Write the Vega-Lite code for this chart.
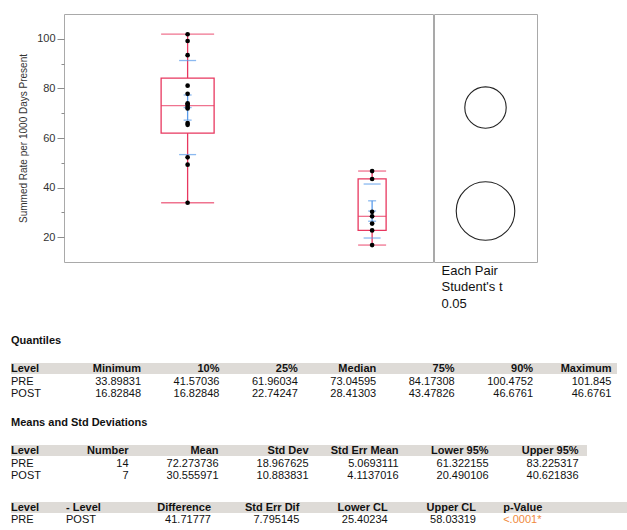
{
  "$schema": "https://vega.github.io/schema/vega-lite/v6.json",
  "background": "white",
  "padding": {"left": 11, "top": 13, "right": 0, "bottom": 0},
  "config": {
    "font": "Liberation Sans",
    "view": {"stroke": "#A9A9A9", "strokeWidth": 1},
    "axis": {"grid": false}
  },
  "datasets": {
    "stats": [
      {"level": "PRE", "n": 14, "min": 33.89831, "q1": 61.96034, "median": 73.04595, "q3": 84.17308, "max": 101.845, "mean": 72.273736, "sd_lo": 53.306111, "sd_hi": 91.241361, "se_lo": 67.204425, "se_hi": 77.343047, "ci_radius": 9.42},
      {"level": "POST", "n": 7, "min": 16.82848, "q1": 22.74247, "median": 28.41303, "q3": 43.47826, "max": 46.6761, "mean": 30.555971, "sd_lo": 19.67214, "sd_hi": 41.439802, "se_lo": 26.442269, "se_hi": 34.669673, "ci_radius": 13.32}
    ],
    "points": [
      {"level": "PRE", "value": 33.898}, {"level": "PRE", "value": 49.24}, {"level": "PRE", "value": 52.2}, {"level": "PRE", "value": 65.3},
      {"level": "PRE", "value": 66.0}, {"level": "PRE", "value": 71.9}, {"level": "PRE", "value": 72.6}, {"level": "PRE", "value": 73.49},
      {"level": "PRE", "value": 74.0}, {"level": "PRE", "value": 77.8}, {"level": "PRE", "value": 81.1}, {"level": "PRE", "value": 93.4},
      {"level": "PRE", "value": 99.105}, {"level": "PRE", "value": 101.845},
      {"level": "POST", "value": 16.828}, {"level": "POST", "value": 22.742}, {"level": "POST", "value": 25.5}, {"level": "POST", "value": 28.413},
      {"level": "POST", "value": 30.25}, {"level": "POST", "value": 43.478}, {"level": "POST", "value": 46.676}
    ],
    "quant": [
      {"row": "header", "col": "Level", "text": "Level"}, {"row": "header", "col": "Minimum", "text": "Minimum"}, {"row": "header", "col": "10%", "text": "10%"}, {"row": "header", "col": "25%", "text": "25%"}, {"row": "header", "col": "Median", "text": "Median"}, {"row": "header", "col": "75%", "text": "75%"}, {"row": "header", "col": "90%", "text": "90%"}, {"row": "header", "col": "Maximum", "text": "Maximum"},
      {"row": "PRE", "col": "Level", "text": "PRE"}, {"row": "PRE", "col": "Minimum", "text": "33.89831"}, {"row": "PRE", "col": "10%", "text": "41.57036"}, {"row": "PRE", "col": "25%", "text": "61.96034"}, {"row": "PRE", "col": "Median", "text": "73.04595"}, {"row": "PRE", "col": "75%", "text": "84.17308"}, {"row": "PRE", "col": "90%", "text": "100.4752"}, {"row": "PRE", "col": "Maximum", "text": "101.845"},
      {"row": "POST", "col": "Level", "text": "POST"}, {"row": "POST", "col": "Minimum", "text": "16.82848"}, {"row": "POST", "col": "10%", "text": "16.82848"}, {"row": "POST", "col": "25%", "text": "22.74247"}, {"row": "POST", "col": "Median", "text": "28.41303"}, {"row": "POST", "col": "75%", "text": "43.47826"}, {"row": "POST", "col": "90%", "text": "46.6761"}, {"row": "POST", "col": "Maximum", "text": "46.6761"}
    ],
    "means": [
      {"row": "header", "col": "Level", "text": "Level"}, {"row": "header", "col": "Number", "text": "Number"}, {"row": "header", "col": "Mean", "text": "Mean"}, {"row": "header", "col": "Std Dev", "text": "Std Dev"}, {"row": "header", "col": "Std Err Mean", "text": "Std Err Mean"}, {"row": "header", "col": "Lower 95%", "text": "Lower 95%"}, {"row": "header", "col": "Upper 95%", "text": "Upper 95%"},
      {"row": "PRE", "col": "Level", "text": "PRE"}, {"row": "PRE", "col": "Number", "text": "14"}, {"row": "PRE", "col": "Mean", "text": "72.273736"}, {"row": "PRE", "col": "Std Dev", "text": "18.967625"}, {"row": "PRE", "col": "Std Err Mean", "text": "5.0693111"}, {"row": "PRE", "col": "Lower 95%", "text": "61.322155"}, {"row": "PRE", "col": "Upper 95%", "text": "83.225317"},
      {"row": "POST", "col": "Level", "text": "POST"}, {"row": "POST", "col": "Number", "text": "7"}, {"row": "POST", "col": "Mean", "text": "30.555971"}, {"row": "POST", "col": "Std Dev", "text": "10.883831"}, {"row": "POST", "col": "Std Err Mean", "text": "4.1137016"}, {"row": "POST", "col": "Lower 95%", "text": "20.490106"}, {"row": "POST", "col": "Upper 95%", "text": "40.621836"}
    ],
    "diff": [
      {"row": "header", "col": "Level", "text": "Level"}, {"row": "header", "col": "- Level", "text": "- Level"}, {"row": "header", "col": "Difference", "text": "Difference"}, {"row": "header", "col": "Std Err Dif", "text": "Std Err Dif"}, {"row": "header", "col": "Lower CL", "text": "Lower CL"}, {"row": "header", "col": "Upper CL", "text": "Upper CL"}, {"row": "header", "col": "p-Value", "text": "p-Value"},
      {"row": "PRE", "col": "Level", "text": "PRE"}, {"row": "PRE", "col": "- Level", "text": "POST"}, {"row": "PRE", "col": "Difference", "text": "41.71777"}, {"row": "PRE", "col": "Std Err Dif", "text": "7.795145"}, {"row": "PRE", "col": "Lower CL", "text": "25.40234"}, {"row": "PRE", "col": "Upper CL", "text": "58.03319"}, {"row": "PRE", "col": "p-Value", "text": "<.0001*"}
    ]
  },
  "spacing": 23,
  "vconcat": [
    {
      "spacing": -2,
      "resolve": {"scale": {"size": "independent"}},
      "hconcat": [
        {
          "width": 8,
          "height": 248,
          "view": {"stroke": null},
          "data": {"values": []},
          "mark": "point"
        },
        {
          "width": 369,
          "height": 248,
          "resolve": {"axis": {"y": "independent"}},
          "layer": [
            {
              "mark": {"type": "rule", "color": "#A9A9A9", "strokeWidth": 1},
              "encoding": {
                "y": {
                  "datum": 58.37, "type": "quantitative",
                  "scale": {"domain": [10, 110], "nice": false, "zero": false},
                  "axis": {
                    "title": "Summed Rate per 1000 Days Present",
                    "orient": "left",
                    "values": [20, 40, 60, 80, 100],
                    "tickSize": 7,
                    "domain": false, "grid": false, "tickColor": "#8C8C8C",
                    "labelFontSize": 11, "labelColor": "#333333", "labelPadding": 2,
                    "titleFontSize": 10, "titleFontWeight": "normal", "titleColor": "#333333", "titlePadding": 8.5
                  }
                }
              }
            },
            {
              "data": {"name": "stats"},
              "mark": {"type": "rule", "color": "#E8375F", "strokeWidth": 1.3},
              "encoding": {
                "x": {
                  "field": "level", "type": "nominal",
                  "scale": {"type": "point", "domain": ["PRE", "POST"], "padding": 0.5, "align": 0.67},
                  "axis": {
                    "title": "INTERVENTION (PRE/POST)", "ticks": false, "tickSize": 0, "domain": false, "labelAngle": 0,
                    "labelFontSize": 10, "labelColor": "#222222", "labelPadding": 4,
                    "titleFontSize": 10, "titleFontWeight": "normal", "titleColor": "#222222", "titlePadding": 9
                  }
                },
                "y": {
                  "field": "min", "type": "quantitative",
                  "axis": {"title": null, "orient": "left", "values": [30, 50, 70, 90], "labels": false, "tickSize": 3, "domain": false, "grid": false, "tickColor": "#8C8C8C"}
                },
                "y2": {"field": "q1"}
              }
            },
            {
              "data": {"name": "stats"},
              "mark": {"type": "rule", "color": "#E8375F", "strokeWidth": 1.3},
              "encoding": {
                "x": {"field": "level", "type": "nominal", "axis": null},
                "y": {"field": "q3", "type": "quantitative", "axis": null},
                "y2": {"field": "max"}
              }
            },
            {
              "data": {"name": "stats"},
              "mark": {"type": "bar", "filled": false, "color": "#E8375F", "strokeWidth": 1.3},
              "encoding": {
                "x": {"field": "level", "type": "nominal", "axis": null},
                "y": {"field": "q1", "type": "quantitative", "axis": null},
                "y2": {"field": "q3"},
                "size": {"field": "n", "type": "quantitative", "scale": {"domain": [7, 14], "range": [28, 53]}, "legend": null}
              }
            },
            {
              "data": {"name": "stats"},
              "transform": [{"fold": ["min", "max", "median"], "as": ["stat", "v"]}],
              "mark": {"type": "tick", "color": "#E8375F", "thickness": 1.3},
              "encoding": {
                "x": {"field": "level", "type": "nominal", "axis": null},
                "y": {"field": "v", "type": "quantitative", "axis": null},
                "size": {"field": "n", "type": "quantitative", "scale": {"domain": [7, 14], "range": [28, 53]}, "legend": null}
              }
            },
            {
              "data": {"name": "stats"},
              "mark": {"type": "rule", "color": "#5A9BEA", "strokeWidth": 1.3},
              "encoding": {
                "x": {"field": "level", "type": "nominal", "axis": null},
                "y": {"field": "se_lo", "type": "quantitative", "axis": null},
                "y2": {"field": "se_hi"}
              }
            },
            {
              "data": {"name": "stats"},
              "transform": [{"fold": ["sd_lo", "sd_hi"], "as": ["stat", "v"]}],
              "mark": {"type": "tick", "color": "#5A9BEA", "thickness": 1.3, "size": 17},
              "encoding": {
                "x": {"field": "level", "type": "nominal", "axis": null},
                "y": {"field": "v", "type": "quantitative", "axis": null}
              }
            },
            {
              "data": {"name": "stats"},
              "transform": [{"fold": ["se_lo", "se_hi", "mean"], "as": ["stat", "v"]}],
              "mark": {"type": "tick", "color": "#5A9BEA", "thickness": 1.3, "size": 8},
              "encoding": {
                "x": {"field": "level", "type": "nominal", "axis": null},
                "y": {"field": "v", "type": "quantitative", "axis": null}
              }
            },
            {
              "data": {"name": "points"},
              "mark": {"type": "circle", "color": "#000000", "size": 22, "opacity": 1},
              "encoding": {
                "x": {"field": "level", "type": "nominal", "axis": null},
                "y": {"field": "value", "type": "quantitative", "axis": null}
              }
            }
          ]
        },
        {
          "width": 103,
          "height": 248,
          "layer": [
            {
              "mark": {"type": "rule", "color": "#A9A9A9", "strokeWidth": 1},
              "encoding": {
                "y": {"datum": 58.37, "type": "quantitative", "scale": {"domain": [10, 110], "nice": false, "zero": false}, "axis": null}
              }
            },
            {
              "data": {"name": "stats"},
              "mark": {"type": "point", "filled": false, "color": "#222222", "strokeWidth": 1.1, "opacity": 1},
              "encoding": {
                "x": {
                  "datum": "cmp", "type": "nominal", "scale": {"type": "point"},
                  "axis": {
                    "title": ["Each Pair", "Student's t", "\u00a00.05"],
                    "labels": false, "ticks": false, "domain": false,
                    "titleFontSize": 13, "titleFontWeight": "normal", "titleColor": "#111111",
                    "titleAnchor": "start", "titleAlign": "left", "titleBaseline": "top",
                    "titleX": 7, "titlePadding": 2, "titleLineHeight": 16.5
                  }
                },
                "y": {"field": "mean", "type": "quantitative", "axis": null},
                "size": {"field": "ci_radius", "type": "quantitative", "scale": {"type": "pow", "exponent": 2, "domain": [0, 20], "range": [0, 7729]}, "legend": null}
              }
            }
          ]
        }
      ]
    },
    {
      "spacing": 16,
      "vconcat": [
        {
          "title": {"text": "Quantiles", "anchor": "start", "fontSize": 11, "fontWeight": "bold", "offset": 17, "color": "#111111"},
          "width": 606,
          "height": 37,
          "view": {"stroke": null},
          "data": {"name": "quant"},
          "resolve": {"scale": {"x": "independent"}},
          "layer": [
            {
              "transform": [{"filter": "datum.row === 'header'"}],
              "mark": {"type": "rect", "color": "#DEDBD7"},
              "encoding": {"y": {"field": "row", "type": "nominal", "scale": {"domain": ["header", "PRE", "POST"], "paddingInner": 0.15, "paddingOuter": 0}, "axis": null}}
            },
            {
              "transform": [{"filter": "datum.row === 'header' && datum.col === 'Level'"}],
              "mark": {"type": "text", "align": "left", "baseline": "middle", "fontSize": 11, "fontWeight": "bold", "color": "#111111"},
              "encoding": {
                "x": {"field": "col", "type": "nominal", "scale": {"type": "point", "domain": ["Level"], "padding": 0, "align": 0}, "axis": null},
                "y": {"field": "row", "type": "nominal", "axis": null},
                "text": {"field": "text"}
              }
            },
            {
              "transform": [{"filter": "datum.row !== 'header' && datum.col === 'Level'"}],
              "mark": {"type": "text", "align": "left", "baseline": "middle", "fontSize": 11, "color": "#111111"},
              "encoding": {
                "x": {"field": "col", "type": "nominal", "scale": {"type": "point", "domain": ["Level"], "padding": 0, "align": 0}, "axis": null},
                "y": {"field": "row", "type": "nominal", "axis": null},
                "text": {"field": "text"}
              }
            },
            {
              "transform": [{"filter": "datum.row === 'header' && datum.col !== 'Level'"}],
              "mark": {"type": "text", "align": "right", "baseline": "middle", "fontSize": 11, "fontWeight": "bold", "color": "#111111"},
              "encoding": {
                "x": {"field": "col", "type": "nominal", "scale": {"type": "point", "domain": ["Minimum", "10%", "25%", "Median", "75%", "90%", "Maximum"], "padding": 0.865, "align": 0.959}, "axis": null},
                "y": {"field": "row", "type": "nominal", "axis": null},
                "text": {"field": "text"}
              }
            },
            {
              "transform": [{"filter": "datum.row !== 'header' && datum.col !== 'Level'"}],
              "mark": {"type": "text", "align": "right", "baseline": "middle", "fontSize": 11, "color": "#111111"},
              "encoding": {
                "x": {"field": "col", "type": "nominal", "scale": {"type": "point", "domain": ["Minimum", "10%", "25%", "Median", "75%", "90%", "Maximum"], "padding": 0.865, "align": 0.959}, "axis": null},
                "y": {"field": "row", "type": "nominal", "axis": null},
                "text": {"field": "text"}
              }
            }
          ]
        },
        {
          "spacing": 19,
          "vconcat": [
            {
              "title": {"text": "Means and Std Deviations", "anchor": "start", "fontSize": 11, "fontWeight": "bold", "offset": 17, "color": "#111111"},
              "width": 576,
              "height": 37,
              "view": {"stroke": null},
              "data": {"name": "means"},
              "resolve": {"scale": {"x": "independent"}},
              "layer": [
                {
                  "transform": [{"filter": "datum.row === 'header'"}],
                  "mark": {"type": "rect", "color": "#DEDBD7"},
                  "encoding": {"y": {"field": "row", "type": "nominal", "scale": {"domain": ["header", "PRE", "POST"], "paddingInner": 0.15, "paddingOuter": 0}, "axis": null}}
                },
                {
                  "transform": [{"filter": "datum.row === 'header' && datum.col === 'Level'"}],
                  "mark": {"type": "text", "align": "left", "baseline": "middle", "fontSize": 11, "fontWeight": "bold", "color": "#111111"},
                  "encoding": {
                    "x": {"field": "col", "type": "nominal", "scale": {"type": "point", "domain": ["Level"], "padding": 0, "align": 0}, "axis": null},
                    "y": {"field": "row", "type": "nominal", "axis": null},
                    "text": {"field": "text"}
                  }
                },
                {
                  "transform": [{"filter": "datum.row !== 'header' && datum.col === 'Level'"}],
                  "mark": {"type": "text", "align": "left", "baseline": "middle", "fontSize": 11, "color": "#111111"},
                  "encoding": {
                    "x": {"field": "col", "type": "nominal", "scale": {"type": "point", "domain": ["Level"], "padding": 0, "align": 0}, "axis": null},
                    "y": {"field": "row", "type": "nominal", "axis": null},
                    "text": {"field": "text"}
                  }
                },
                {
                  "transform": [{"filter": "datum.row === 'header' && datum.col !== 'Level'"}],
                  "mark": {"type": "text", "align": "right", "baseline": "middle", "fontSize": 11, "fontWeight": "bold", "color": "#111111"},
                  "encoding": {
                    "x": {"field": "col", "type": "nominal", "scale": {"type": "point", "domain": ["Number", "Mean", "Std Dev", "Std Err Mean", "Lower 95%", "Upper 95%"], "padding": 0.7, "align": 0.933}, "axis": null},
                    "y": {"field": "row", "type": "nominal", "axis": null},
                    "text": {"field": "text"}
                  }
                },
                {
                  "transform": [{"filter": "datum.row !== 'header' && datum.col !== 'Level'"}],
                  "mark": {"type": "text", "align": "right", "baseline": "middle", "fontSize": 11, "color": "#111111"},
                  "encoding": {
                    "x": {"field": "col", "type": "nominal", "scale": {"type": "point", "domain": ["Number", "Mean", "Std Dev", "Std Err Mean", "Lower 95%", "Upper 95%"], "padding": 0.7, "align": 0.933}, "axis": null},
                    "y": {"field": "row", "type": "nominal", "axis": null},
                    "text": {"field": "text"}
                  }
                }
              ]
            },
            {
              "width": 616,
              "height": 24,
              "view": {"stroke": null},
              "data": {"name": "diff"},
              "resolve": {"scale": {"x": "independent"}},
              "layer": [
                {
                  "transform": [{"filter": "datum.row === 'header'"}],
                  "mark": {"type": "rect", "color": "#DEDBD7"},
                  "encoding": {"y": {"field": "row", "type": "nominal", "scale": {"domain": ["header", "PRE"], "paddingInner": 0.15, "paddingOuter": 0}, "axis": null}}
                },
                {
                  "transform": [{"filter": "datum.row === 'header' && (datum.col === 'Level' || datum.col === '- Level')"}],
                  "mark": {"type": "text", "align": "left", "baseline": "middle", "fontSize": 11, "fontWeight": "bold", "color": "#111111"},
                  "encoding": {
                    "x": {"field": "col", "type": "nominal", "scale": {"type": "point", "domain": ["Level", "- Level"], "range": [0, 55], "padding": 0}, "axis": null},
                    "y": {"field": "row", "type": "nominal", "axis": null},
                    "text": {"field": "text"}
                  }
                },
                {
                  "transform": [{"filter": "datum.row !== 'header' && (datum.col === 'Level' || datum.col === '- Level')"}],
                  "mark": {"type": "text", "align": "left", "baseline": "middle", "fontSize": 11, "color": "#111111"},
                  "encoding": {
                    "x": {"field": "col", "type": "nominal", "scale": {"type": "point", "domain": ["Level", "- Level"], "range": [0, 55], "padding": 0}, "axis": null},
                    "y": {"field": "row", "type": "nominal", "axis": null},
                    "text": {"field": "text"}
                  }
                },
                {
                  "transform": [{"filter": "datum.row === 'header' && indexof(['Difference','Std Err Dif','Lower CL','Upper CL'], datum.col) >= 0"}],
                  "mark": {"type": "text", "align": "right", "baseline": "middle", "fontSize": 11, "fontWeight": "bold", "color": "#111111"},
                  "encoding": {
                    "x": {"field": "col", "type": "nominal", "scale": {"type": "point", "domain": ["Difference", "Std Err Dif", "Lower CL", "Upper CL"], "range": [200, 465], "padding": 0}, "axis": null},
                    "y": {"field": "row", "type": "nominal", "axis": null},
                    "text": {"field": "text"}
                  }
                },
                {
                  "transform": [{"filter": "datum.row !== 'header' && indexof(['Difference','Std Err Dif','Lower CL','Upper CL'], datum.col) >= 0"}],
                  "mark": {"type": "text", "align": "right", "baseline": "middle", "fontSize": 11, "color": "#111111"},
                  "encoding": {
                    "x": {"field": "col", "type": "nominal", "scale": {"type": "point", "domain": ["Difference", "Std Err Dif", "Lower CL", "Upper CL"], "range": [200, 465], "padding": 0}, "axis": null},
                    "y": {"field": "row", "type": "nominal", "axis": null},
                    "text": {"field": "text"}
                  }
                },
                {
                  "transform": [{"filter": "datum.row === 'header' && datum.col === 'p-Value'"}],
                  "mark": {"type": "text", "align": "left", "baseline": "middle", "fontSize": 11, "fontWeight": "bold", "color": "#111111"},
                  "encoding": {
                    "x": {"field": "col", "type": "nominal", "scale": {"type": "point", "domain": ["p-Value"], "padding": 0, "align": 0.799}, "axis": null},
                    "y": {"field": "row", "type": "nominal", "axis": null},
                    "text": {"field": "text"}
                  }
                },
                {
                  "transform": [{"filter": "datum.row !== 'header' && datum.col === 'p-Value'"}],
                  "mark": {"type": "text", "align": "left", "baseline": "middle", "fontSize": 11, "color": "#F08A3C"},
                  "encoding": {
                    "x": {"field": "col", "type": "nominal", "scale": {"type": "point", "domain": ["p-Value"], "padding": 0, "align": 0.799}, "axis": null},
                    "y": {"field": "row", "type": "nominal", "axis": null},
                    "text": {"field": "text"}
                  }
                }
              ]
            }
          ]
        }
      ]
    }
  ]
}
